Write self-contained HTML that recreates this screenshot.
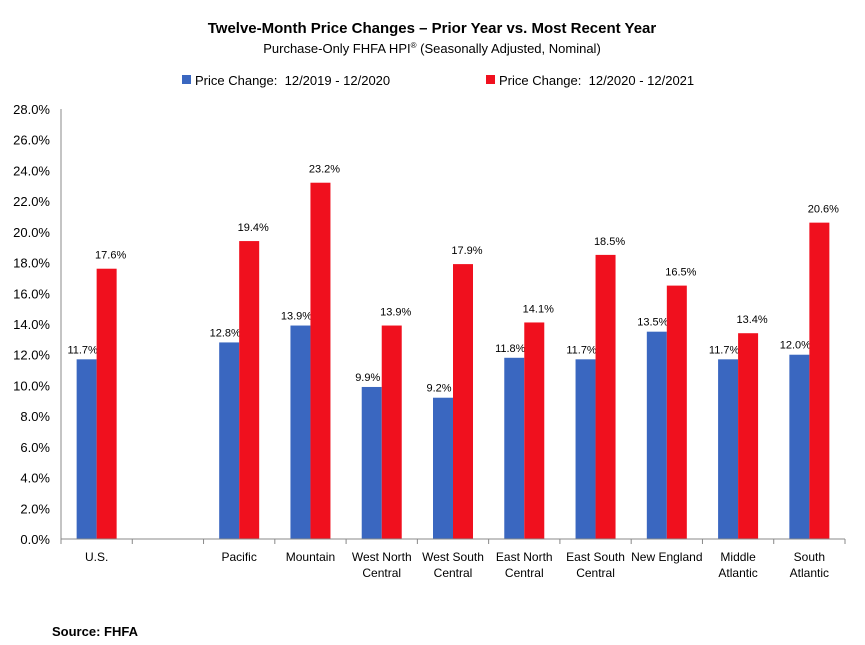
<!DOCTYPE html>
<html><head><meta charset="utf-8"><style>
body{margin:0;background:#fff;width:865px;height:645px;overflow:hidden;font-family:"Liberation Sans",sans-serif}
</style></head><body>
<svg width="865" height="645" style="position:absolute;left:0;top:0">
<text x="432" y="33" text-anchor="middle" font-size="15" font-weight="bold" fill="#000">Twelve-Month Price Changes – Prior Year vs. Most Recent Year</text>
<text x="432" y="53" text-anchor="middle" font-size="13" fill="#000">Purchase-Only FHFA HPI<tspan font-size="8" dy="-5">®</tspan><tspan dy="5"> (Seasonally Adjusted, Nominal)</tspan></text>
<g font-size="13">
<rect x="182" y="75" width="9" height="9" fill="#3A67C0"/>
<text x="195" y="85">Price Change:&#160; 12/2019 - 12/2020</text>
<rect x="486" y="75" width="9" height="9" fill="#F0101E"/>
<text x="499" y="85">Price Change:&#160; 12/2020 - 12/2021</text>
</g>
<g id="plot"></g>
<text x="52" y="636" font-size="13" font-weight="bold">Source: FHFA</text>
</svg>
<script>
const categories=[["U.S."],[""],["Pacific"],["Mountain"],["West North","Central"],["West South","Central"],["East North","Central"],["East South","Central"],["New England"],["Middle","Atlantic"],["South","Atlantic"]];
const prior=[11.7,null,12.8,13.9,9.9,9.2,11.8,11.7,13.5,11.7,12.0];
const recent=[17.6,null,19.4,23.2,13.9,17.9,14.1,18.5,16.5,13.4,20.6];
const yTicks=[0,2,4,6,8,10,12,14,16,18,20,22,24,26,28];
const NS="http://www.w3.org/2000/svg";
const g=document.getElementById('plot');
const x0=61,x1=845,y0=539,yTop=109,yMax=28;
const slot=(x1-x0)/categories.length;
const y=v=>y0-(v/yMax)*(y0-yTop);
const xc=i=>x0+slot*(i+0.5);
function mk(t,a){const e=document.createElementNS(NS,t);for(const k in a)e.setAttribute(k,a[k]);g.appendChild(e);return e;}
yTicks.forEach(v=>{
 const t=mk('text',{x:50,y:y(v)+5,'text-anchor':'end','font-size':13,fill:'#000'});
 
 
 t.textContent=v.toFixed(1)+'%';
});
const bw=20;
categories.forEach((c,i)=>{
 const cx=xc(i);
 if(prior[i]!=null){
  const b=mk('rect',{x:cx-bw,y:y(prior[i]),width:bw,height:y0-y(prior[i]),fill:'#3A67C0'});
  
  
  const t=mk('text',{x:cx-bw/2-4,y:y(prior[i])-6,'text-anchor':'middle','font-size':11});
  
  
  t.textContent=prior[i].toFixed(1)+'%';
 }
 if(recent[i]!=null){
  const b=mk('rect',{x:cx,y:y(recent[i]),width:bw,height:y0-y(recent[i]),fill:'#F0101E'});
  
  
  const t=mk('text',{x:cx+bw/2+4,y:y(recent[i])-10,'text-anchor':'middle','font-size':11});
  
  
  t.textContent=recent[i].toFixed(1)+'%';
 }
 c.forEach((s,j)=>{
  const t=mk('text',{x:cx,y:561+j*16,'text-anchor':'middle','font-size':12});
  
  
  t.textContent=s;
 });
});
for(let i=0;i<=categories.length;i++){
 const l=mk('line',{x1:x0+slot*i,x2:x0+slot*i,y1:y0,y2:y0+5,stroke:'#888'});
 
 
}
const ax=mk('line',{x1:x0,x2:x0,y1:yTop,y2:y0,stroke:'#888'});


const bx=mk('line',{x1:x0,x2:x1,y1:y0,y2:y0,stroke:'#888'});


</script>
</body></html>
